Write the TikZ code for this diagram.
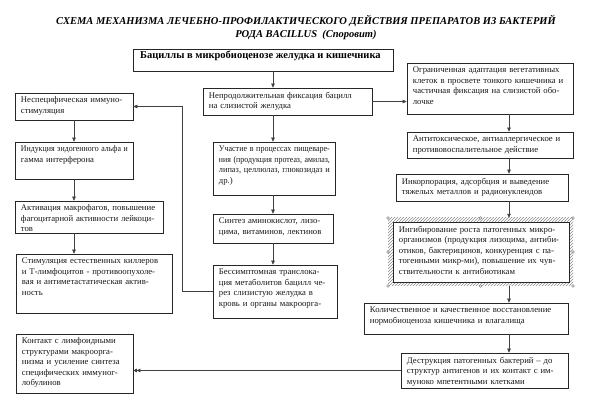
\documentclass[tikz,border=0pt]{standalone}
\usepackage{fontspec}
\usepackage{graphicx}
\setmainfont{Liberation Serif}
\usetikzlibrary{arrows.meta,fit,patterns,calc}

\tikzset{
 boxst/.style={draw=black!85, line width=0.6pt, fill=white, inner sep=0pt},
 txt/.style={font=\fontsize{8.7}{10.5}\selectfont, align=left, inner sep=0pt, text=black!90},
 arr/.style={draw=black!75, line width=0.6pt, -{Triangle[length=4pt,width=3.5pt]}},
 darr/.style={draw=black!75, line width=0.6pt, -{Triangle[length=3.5pt,width=3.5pt]Triangle[length=3.5pt,width=3.5pt]}},
 handle/.style={draw=black!60, fill=white, line width=0.4pt},
}
\newlength\Jw
% justified line, compressed if too wide
\newcommand\J[1]{\settowidth\Jw{#1}\ifdim\Jw>\linewidth\pgfmathsetmacro\Jr{\linewidth/\Jw}\scalebox{\Jr}[1]{#1}\else\makebox[\linewidth][s]{#1}\fi}
% natural line, compressed if too wide
\newcommand\K[1]{\settowidth\Jw{#1}\ifdim\Jw>\linewidth\pgfmathsetmacro\Jr{\linewidth/\Jw}\scalebox{\Jr}[1]{#1}\else#1\fi}
\newcommand\bx[7]{%
 \node[boxst, fit={(#2,#3)(#4,#5)}] (#1) {};
 \node[txt, anchor=north west, text width=#6pt] (#1t) at ([shift={(6pt,-4pt)}]#1.north west) {#7};
}

\begin{document}
\begin{tikzpicture}[x=1pt,y=-1pt]
\fill[white] (0,0) rectangle (600,411);
\useasboundingbox (0,0) rectangle (600,411);

\node[font=\bfseries\itshape\fontsize{10.5}{13}\selectfont, align=center, inner sep=0] (T) at (306,27)
 {СХЕМА МЕХАНИЗМА ЛЕЧЕБНО-ПРОФИЛАКТИЧЕСКОГО ДЕЙСТВИЯ ПРЕПАРАТОВ ИЗ БАКТЕРИЙ\\РОДА BACILLUS\ \ (Споровит)};

\node[boxst, fit={(133,49)(393,71)}] (M0) {};
\node[anchor=base west, font=\bfseries\fontsize{10.5}{12}\selectfont, inner sep=0] (M0t) at (140,59)
 {Бациллы в микробиоценозе желудка и кишечника};

% left column
\bx{L1}{15}{93}{133}{120}{107}{\J{Неспецифическая иммуно-}\\стимуляция}
\bx{L2}{15}{142}{133}{179}{107}{\K{Индукция эндогенного альфа и}\\гамма интерферона}
\bx{L3}{15}{201}{163}{233}{137}{\J{Активация макрофагов, повышение}\\\J{фагоцитарной активности лейкоци-}\\тов}
\bx{L4}{16}{254}{172}{313}{145}{\J{Стимуляция естественных киллеров}\\\J{и Т-лимфоцитов - противоопухоле-}\\\J{вая и антиметастатическая актив-}\\ность}
\bx{L5}{16}{334}{133}{393}{106}{\K{Контакт с лимфоидными}\\\K{структурами макроорга-}\\\K{низма и усиление синтеза}\\\K{специфических иммуног-}\\лобулинов}

% middle column
\bx{M1}{203}{88}{372}{115}{157}{\J{Непродолжительная фиксация бацилл}\\на слизистой желудка}
\bx{M2}{213}{142}{335}{195}{111}{\J{Участие в процессах пищеваре-}\\\J{ния (продукция протеаз, амилаз,}\\\J{липаз, целлюлаз, глюкозидаз и}\\др.)}
\bx{M3}{213}{214}{333}{243}{109}{\J{Синтез аминокислот, лизо-}\\\K{цима, витаминов, лектинов}}
\bx{M4}{213}{265}{337}{318}{113}{\J{Бессимптомная транслока-}\\\J{ция метаболитов бацилл че-}\\\J{рез слизистую желудка в}\\\K{кровь и органы макроорга-}}

% right column
\bx{R1}{407}{63}{573}{114}{154}{\J{Ограниченная адаптация вегетативных}\\\J{клеток в просвете тонкого кишечника и}\\\J{частичная фиксация на слизистой обо-}\\лочке}
\bx{R2}{407}{132}{573}{158}{154}{\J{Антитоксическое, антиаллергическое и}\\\K{противовоспалительное действие}}
\bx{R3}{396}{174}{568}{201}{160}{\J{Инкорпорация, адсорбция и выведение}\\\K{тяжелых металлов и радионуклеидов}}
\node[fit={(388,218)(573,286)}, inner sep=0pt, pattern=north east lines, pattern color=black!45] (R4f) {};
\bx{R4}{393}{222}{569}{282}{164}{\J{Ингибирование роста патогенных микро-}\\\J{организмов (продукция лизоцима, антиби-}\\\J{отиков, бактерицинов, конкуренция с па-}\\\J{тогенными микр-ми), повышение их чув-}\\\K{ствительности к антибиотикам}}
\foreach \p in {(388,218),(480.5,218),(573,218),(573,252),(573,286),(480.5,286),(388,286),(388,252)}
 \draw[handle] \p circle (1.4pt);
\bx{R5}{364}{303}{568}{334}{192}{\J{Количественное и качественное восстановление}\\\K{нормобиоценоза кишечника и влагалища}}
\bx{R6}{401}{353}{568}{388}{155}{\J{Деструкция патогенных бактерий -- до}\\\J{структур антигенов и их контакт с им-}\\\K{муноко мпетентными клетками}}

% connectors
\coordinate (XM) at (273,0);
\coordinate (XR) at (509,0);
\coordinate (XJ) at (182,0);
\draw[arr] (L1.south) -- (L2.north -| L1.south);
\draw[arr] (L2.south -| L1.south) -- (L3.north -| L1.south);
\draw[arr] (L3.south -| L1.south) -- (L4.north -| L1.south);

\draw[arr] (M0.south -| XM) -- (M1.north -| XM);
\draw[arr] (M1.south -| XM) -- (M2.north -| XM);
\draw[arr] (M2.south -| XM) -- (M3.north -| XM);
\draw[arr] (M3.south -| XM) -- (M4.north -| XM);

\draw[arr] (R1.south -| XR) -- (R2.north -| XR);
\draw[arr] (R2.south -| XR) -- (R3.north -| XR);
\draw[arr] (R3.south -| XR) -- (R4f.north -| XR);
\draw[arr] (R4f.south -| XR) -- (R5.north -| XR);
\draw[arr] (R5.south -| XR) -- (R6.north -| XR);

\draw[arr] (M1.east) -- (M1.east -| R1.west);
\draw[arr] (M4.west) -- (M4.west -| XJ) |- (L1.east);
\draw[darr] (R6.west) -- (R6.west -| L5.east);
\end{tikzpicture}
\end{document}
